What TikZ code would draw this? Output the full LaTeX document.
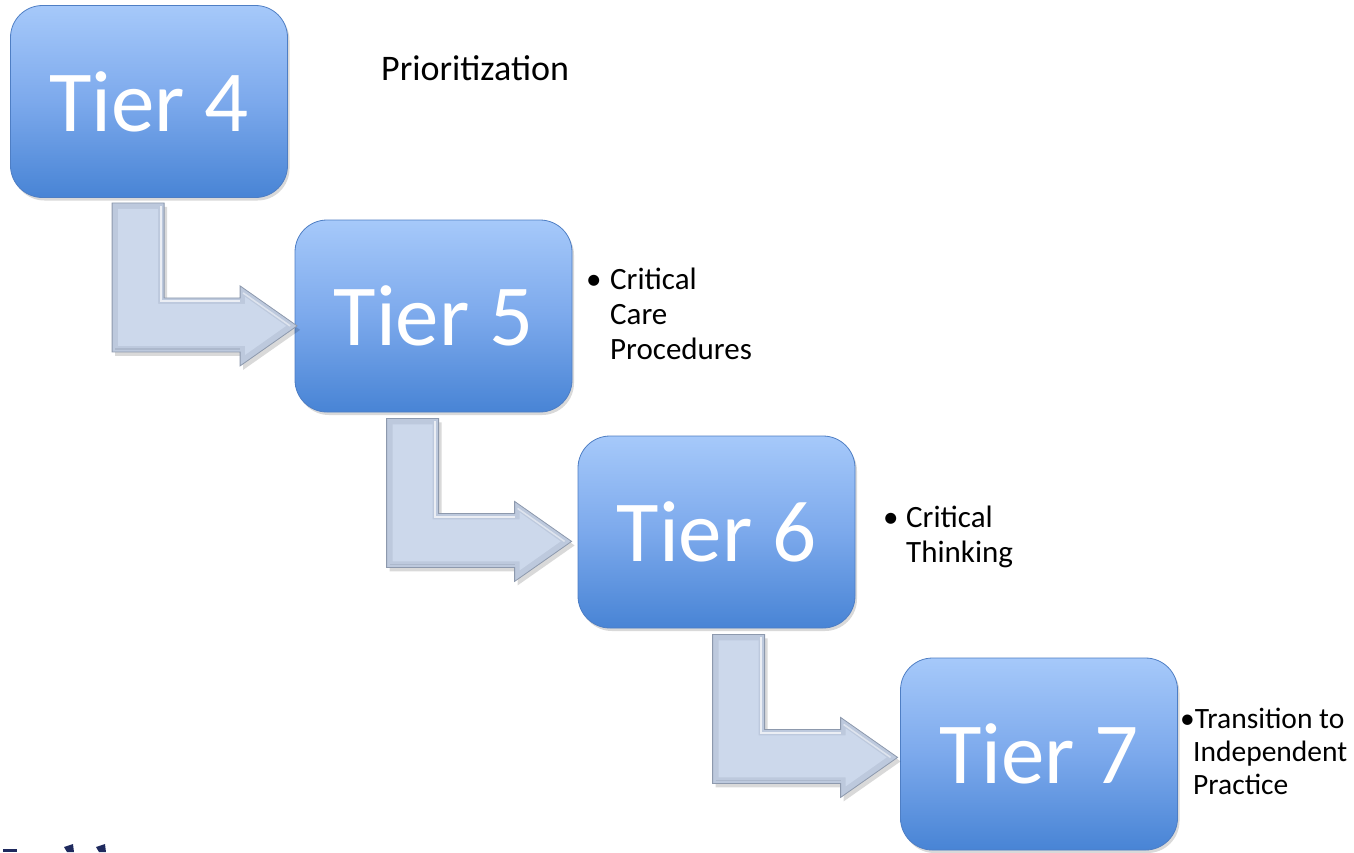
\documentclass[tikz,border=0pt]{standalone}
\usepackage{fontspec}
\setmainfont{Carlito}
\usetikzlibrary{calc,shadows}

\definecolor{boxtop}{HTML}{A6C9FA}
\definecolor{boxmid}{HTML}{7CA9EC}
\definecolor{boxbot}{HTML}{4884D5}
\definecolor{boxedge}{HTML}{4E7EC4}
\definecolor{arrowfill}{HTML}{CCD8EB}
\definecolor{arrowbevel}{HTML}{BDC9DD}
\definecolor{arrowedge}{HTML}{8D99AD}
\definecolor{navy}{HTML}{1F2A5E}

\tikzset{
  tierbox/.style={rectangle, rounded corners=32pt, minimum width=277pt,
    minimum height=192pt, top color=boxtop, bottom color=boxbot,
    middle color=boxmid, draw=boxedge, line width=0.8pt, text=white,
    font=\fontsize{87}{90}\selectfont, inner sep=0pt,
    drop shadow={opacity=0.3, shadow xshift=2pt, shadow yshift=-3pt}},
  note/.style={anchor=base west, inner sep=0pt, text=black,
    font=\fontsize{31}{36}\selectfont},
  smallnote/.style={note, font=\fontsize{29.5}{33}\selectfont},
}

% L-shaped bevelled arrow; #1 is the top-left corner of its vertical bar
\newcommand\bentarrow[1]{%
  \begin{scope}[shift={#1}]
    \fill[black, opacity=0.15] (3,4)--(55,4)--(55,99)--(131,99)--(131,87)--(188,127)
      --(131,167)--(131,153)--(3,153)--cycle;
    \filldraw[fill=arrowbevel, draw=arrowedge, line width=0.8pt]
      (0,0)--(52,0)--(52,95)--(128,95)--(128,83)--(185,123)--(128,163)
      --(128,149)--(0,149)--cycle;
    \fill[arrowfill] (6,6)--(46,6)--(46,101)--(133,101)--(133,94)--(174,123)
      --(133,152)--(133,143)--(6,143)--cycle;
    \draw[white, opacity=0.7, line width=2pt] (48.5,3)--(48.5,98.5)--(128,98.5);
    \draw[white, opacity=0.5, line width=1.6pt] (131,90)--(178,123);
    \draw[arrowedge, opacity=0.35, line width=1.2pt] (3,146)--(128,146);
  \end{scope}}

\begin{document}
\begin{tikzpicture}[x=1pt, y=-1pt]
  \useasboundingbox (0,0) rectangle (1354,852);

  % tier boxes
  \node[tierbox] (t4) at (149,101.5) {Tier 4};
  \node[tierbox] (t5) at (433.5,316) {Tier 5};
  \node[tierbox] (t6) at (716.5,532) {Tier 6};
  \node[tierbox] (t7) at (1039,754) {Tier 7};

  % connecting arrows, hung below each box
  \bentarrow{($(t4.south west)+(102,5)$)}
  \bentarrow{($(t5.south west)+(92,6)$)}
  \bentarrow{($(t6.south west)+(135,6)$)}

  % side notes
  \node[note, font=\fontsize{36}{40}\selectfont] (prio) at (381,80) {Prioritization};

  \node[note] (b5) at (586,289) {•};
  \node[note] (n5a) at (610,289) {Critical};
  \node[note] (n5b) at (610,324) {Care};
  \node[note] (n5c) at (610,359) {Procedures};

  \node[note] (b6) at (883,527) {•};
  \node[note] (n6a) at (906,527) {Critical};
  \node[note] (n6b) at (906,562) {Thinking};

  \node[smallnote] (n7a) at (1180,728) {•Transition to};
  \node[smallnote] (n7b) at (1193,761) {Independent};
  \node[smallnote] (n7c) at (1193,794) {Practice};

  % clipped lettering along the lower edge
  \fill[navy] (3,849) rectangle (17,852);
  \fill[navy] (64,847)--(73,844)--(74,852)--(67,852)--cycle;
  \fill[navy] (96,847)--(105,844)--(106,852)--(99,852)--cycle;
\end{tikzpicture}
\end{document}
